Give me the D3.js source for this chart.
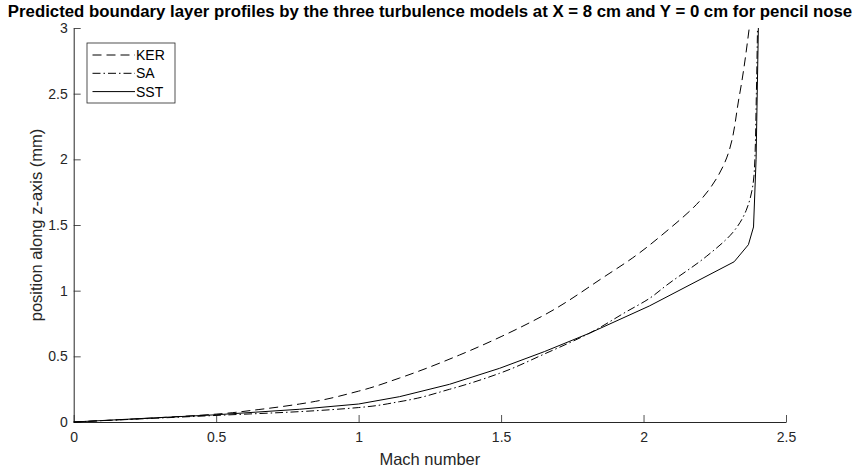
<!DOCTYPE html>
<html>
<head>
<meta charset="utf-8">
<script src="https://cdn.jsdelivr.net/npm/d3@7"></script>
<style>
  body { margin: 0; background: #fff; }
  svg text { font-family: "Liberation Sans", Arial, Helvetica, sans-serif; }
</style>
</head>
<body>
<svg id="chart_svg" width="855" height="469"></svg>
<script>
// Mach number vs. position along z-axis (mm)
var kerMach = [0, 0.25, 0.5, 0.65, 0.793, 1.0, 1.144, 1.354, 1.5, 1.652, 1.863, 1.962, 2.079, 2.196, 2.284, 2.336, 2.371];
var kerZ    = [0, 0.027, 0.06, 0.095, 0.137, 0.235, 0.335, 0.51, 0.65, 0.815, 1.107, 1.25, 1.45, 1.68, 1.97, 2.48, 3.0];

var saMach = [0, 0.25, 0.5, 0.793, 1.0, 1.144, 1.319, 1.495, 1.652, 1.81, 1.94, 2.02, 2.08, 2.22, 2.312, 2.36, 2.389, 2.396, 2.40];
var saZ    = [0, 0.025, 0.05, 0.079, 0.11, 0.155, 0.249, 0.371, 0.518, 0.676, 0.84, 0.94, 1.04, 1.26, 1.44, 1.61, 1.92, 2.5, 3.0];

var sstMach = [0, 0.25, 0.5, 0.793, 1.0, 1.144, 1.319, 1.495, 1.652, 1.81, 2.02, 2.318, 2.368, 2.386, 2.395, 2.403];
var sstZ    = [0, 0.028, 0.055, 0.097, 0.137, 0.193, 0.287, 0.409, 0.536, 0.676, 0.883, 1.22, 1.35, 1.485, 2.0, 3.0];

var xTicks = [0, 0.5, 1, 1.5, 2, 2.5];
var yTicks = [0, 0.5, 1, 1.5, 2, 2.5, 3];
var seriesNames = ["KER", "SA", "SST"];

var PADDING = { TOP: 28, RIGHT: 69, BOTTOM: 47, LEFT: 73.7 };
var AXIS_COLOR = "#262626";

function toPoints(m, z) {
  return m.map(function (v, i) { return [v, z[i]]; });
}

function drawChart() {
  var svg = d3.select("#chart_svg");
  var svgwidth = +svg.attr("width");
  var svgheight = +svg.attr("height");

  var machScale = d3.scaleLinear().domain([0, 2.5]).range([PADDING.LEFT, svgwidth - PADDING.RIGHT]);
  var zScale = d3.scaleLinear().domain([0, 3]).range([svgheight - PADDING.BOTTOM, PADDING.TOP]);

  var series = [
    { name: seriesNames[0], pts: toPoints(kerMach, kerZ), dash: "9,5", curve: d3.curveMonotoneY },
    { name: seriesNames[1], pts: toPoints(saMach, saZ), dash: "8,3,1.5,3", curve: d3.curveMonotoneY },
    { name: seriesNames[2], pts: toPoints(sstMach, sstZ), dash: null, curve: d3.curveLinear }
  ];

  // axes, MATLAB style: box off, ticks pointing inward
  var xAxis = svg.append("g")
    .attr("transform", "translate(0," + (svgheight - PADDING.BOTTOM) + ")")
    .call(d3.axisBottom(machScale).tickValues(xTicks).tickSizeInner(-7).tickSizeOuter(0).tickPadding(10)
      .tickFormat(function (d) { return d3.format("~g")(d); }));

  var yAxis = svg.append("g")
    .attr("transform", "translate(" + PADDING.LEFT + ",0)")
    .call(d3.axisLeft(zScale).tickValues(yTicks).tickSizeInner(-7).tickSizeOuter(0).tickPadding(6)
      .tickFormat(function (d) { return d3.format("~g")(d); }));

  [xAxis, yAxis].forEach(function (ax) {
    ax.select(".domain").attr("stroke", AXIS_COLOR).attr("stroke-width", 1);
    ax.selectAll(".tick line").attr("stroke", AXIS_COLOR).attr("stroke-width", 0.8);
    ax.selectAll(".tick text").attr("fill", AXIS_COLOR).attr("font-size", 14);
  });

  var line = function (curve) {
    return d3.line()
      .x(function (d) { return machScale(d[0]); })
      .y(function (d) { return zScale(d[1]); })
      .curve(curve);
  };

  series.forEach(function (s) {
    svg.append("path")
      .datum(s.pts)
      .attr("d", line(s.curve))
      .attr("fill", "none")
      .attr("stroke", "#000")
      .attr("stroke-width", 1)
      .attr("stroke-dasharray", s.dash);
  });

  // title and axis labels
  svg.append("text")
    .attr("x", 430).attr("y", 16.5)
    .attr("text-anchor", "middle")
    .attr("font-weight", "bold")
    .attr("font-size", 16.8)
    .attr("fill", "#000")
    .text("Predicted boundary layer profiles by the three turbulence models at X = 8 cm and Y = 0 cm for pencil nose");

  svg.append("text")
    .attr("x", (machScale(0) + machScale(2.5)) / 2).attr("y", 465)
    .attr("text-anchor", "middle")
    .attr("font-size", 16.5)
    .attr("fill", AXIS_COLOR)
    .text("Mach number");

  svg.append("text")
    .attr("transform", "translate(42," + ((zScale(0) + zScale(3)) / 2) + ") rotate(-90)")
    .attr("text-anchor", "middle")
    .attr("font-size", 16.5)
    .attr("fill", AXIS_COLOR)
    .text("position along z-axis (mm)");

  // legend
  var legend = svg.append("g").attr("transform", "translate(87,43)");
  legend.append("rect")
    .attr("width", 88).attr("height", 60)
    .attr("fill", "#fff")
    .attr("stroke", AXIS_COLOR)
    .attr("stroke-width", 0.8);

  series.forEach(function (s, i) {
    var y = 12 + i * 18.3;
    legend.append("line")
      .attr("x1", 5.5).attr("x2", 48)
      .attr("y1", y).attr("y2", y)
      .attr("stroke", "#000")
      .attr("stroke-width", 1)
      .attr("stroke-dasharray", s.dash);
    legend.append("text")
      .attr("x", 49).attr("y", y + 5)
      .attr("font-size", 14)
      .attr("fill", "#000")
      .text(s.name);
  });
}

window.addEventListener("load", drawChart);
</script>
</body>
</html>
